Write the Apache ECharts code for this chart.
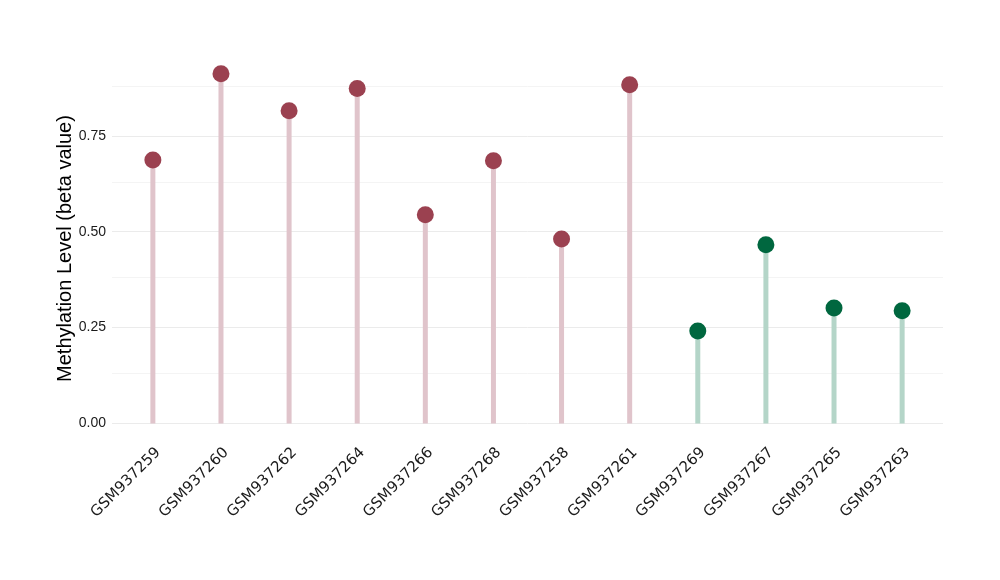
<!DOCTYPE html>
<html>
<head>
<meta charset="utf-8">
<script src="https://cdn.jsdelivr.net/npm/echarts@6/dist/echarts.min.js"></script>
<style>html,body{margin:0;padding:0;background:#fff}#c{width:1000px;height:580px}</style>
</head>
<body>
<div id="c"></div>
<script>
const categories = ['GSM937259','GSM937260','GSM937262','GSM937264','GSM937266','GSM937268','GSM937258','GSM937261','GSM937269','GSM937267','GSM937265','GSM937263'];
const values = [0.687, 0.912, 0.815, 0.873, 0.544, 0.685, 0.481, 0.883, 0.241, 0.466, 0.301, 0.294];
const groups = ['A','A','A','A','A','A','A','A','B','B','B','B'];
const yTicks = [0, 0.25, 0.5, 0.75];
const yMinorTicks = [0.125, 0.375, 0.625, 0.875];

const dotColor = {A: '#9b4150', B: '#00673f'};
const stemColor = {A: '#e0c4cb', B: '#b4d5c8'};

const pts = values.map((v, i) => [i, v]);

const chart = echarts.init(document.getElementById('c'), null, {renderer: 'canvas'});
chart.setOption({
  animation: false,
  backgroundColor: '#ffffff',
  grid: {left: 112, right: 57, top: 56, bottom: 139},
  xAxis: {
    type: 'value', min: -0.6, max: 11.6,
    splitLine: {show: false}, axisLine: {show: false}, axisTick: {show: false},
    axisLabel: {
      customValues: categories.map((c, i) => i),
      formatter: v => categories[Math.round(v)] || '',
      rotate: 45, margin: 4, verticalAlign: 'top', align: 'right',
      fontFamily: 'DejaVu Sans', fontSize: 15, color: '#1a1a1a'
    }
  },
  yAxis: {
    type: 'value', min: -0.0456, max: 0.958,
    name: 'Methylation Level (beta value)', nameLocation: 'middle', nameGap: 37,
    nameMoveOverlap: false,
    nameTextStyle: {fontFamily: 'Liberation Sans', fontSize: 20, color: '#000'},
    splitLine: {show: false}, axisLine: {show: false}, axisTick: {show: false},
    axisLabel: {
      customValues: yTicks,
      formatter: v => v.toFixed(2),
      margin: 6, fontFamily: 'Liberation Sans', fontSize: 14, color: '#1a1a1a'
    }
  },
  series: [
    {
      type: 'line', data: pts, z: 0, silent: true,
      symbol: 'none', lineStyle: {opacity: 0},
      markLine: {
        silent: true, symbol: 'none', label: {show: false}, animation: false, z: 0,
        data: yTicks.map(t => ({yAxis: t, lineStyle: {color: '#ebebeb', width: 1, type: 'solid'}}))
          .concat(yMinorTicks.map(t => ({yAxis: t, lineStyle: {color: '#f4f4f4', width: 1, type: 'solid'}})))
      }
    },
    {
      type: 'bar', z: 2, barWidth: 5, silent: true,
      data: pts.map((p, i) => ({value: p, itemStyle: {color: stemColor[groups[i]]}}))
    },
    {
      type: 'scatter', z: 3, symbolSize: 17, silent: true,
      data: pts.map((p, i) => ({value: p, itemStyle: {color: dotColor[groups[i]], opacity: 1}}))
    }
  ]
});
</script>
</body>
</html>
